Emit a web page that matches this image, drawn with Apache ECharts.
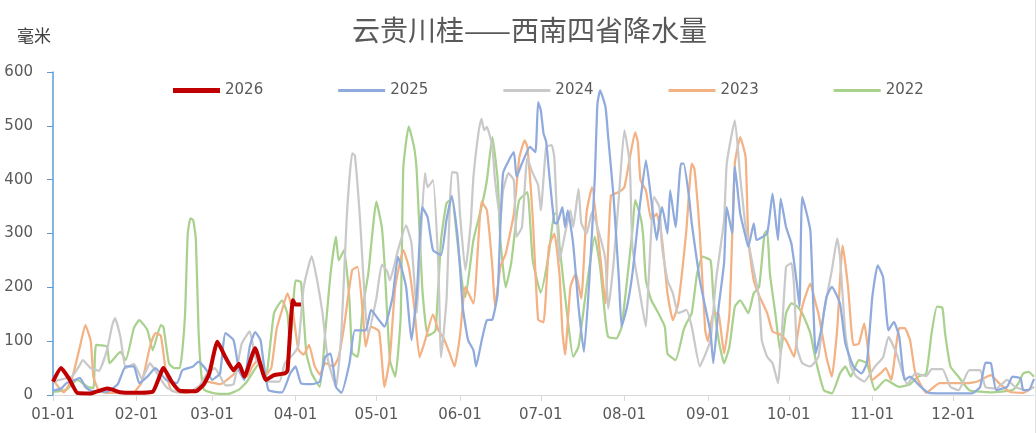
<!DOCTYPE html>
<html>
<head>
<meta charset="utf-8">
<script src="https://cdn.jsdelivr.net/npm/echarts@6/dist/echarts.min.js"></script>
<style>
html,body{margin:0;padding:0;background:#fff;}
#chart{width:1036px;height:433px;}
</style>
</head>
<body>
<div id="chart"></div>
<script>
// ---- data (day-of-year index, value in mm) ----
const monthLengths = [31,28,31,30,31,30,31,31,30,31,30,31];
const legendNames = ['2026','2025','2024','2023','2022'];

const s2026 = [[0,25],[3,50],[6,30],[9,4],[14,3],[20,12],[22,10],[25,5],[30,4],[37,6],[41,50],[44,25],[47,8],[53,7],[56,20],[58,40],[61,99],[64,70],[67,46],[69,58],[71,34],[75,87],[79,28],[82,37],[86,40],[87,45],[88,120],[89,176],[90,168],[92,168]];

const s2025 = [[0,8],[3,12],[5,22],[8,28],[10,32],[12,15],[14,8],[20,6],[24,20],[27,53],[30,53],[32,22],[35,34],[38,50],[42,28],[46,22],[48,46],[52,53],[54,62],[57,46],[59,28],[61,35],[62,40],[64,115],[67,102],[69,46],[71,28],[73,90],[75,117],[77,102],[78,65],[80,9],[85,5],[88,40],[90,53],[92,22],[96,20],[99,25],[101,71],[103,77],[105,15],[107,4],[110,59],[112,120],[116,120],[118,158],[121,139],[123,127],[126,182],[128,257],[131,201],[133,102],[135,189],[137,349],[139,330],[141,269],[144,260],[146,325],[148,370],[150,300],[151,238],[152,164],[154,102],[156,83],[157,53],[159,100],[161,139],[163,140],[165,189],[167,412],[171,451],[172,405],[174,430],[177,461],[179,451],[180,544],[181,529],[182,486],[183,470],[184,417],[186,320],[187,319],[189,349],[190,312],[191,343],[193,281],[195,164],[197,80],[199,213],[201,399],[202,540],[203,566],[205,535],[206,479],[208,368],[210,213],[211,127],[213,164],[215,226],[217,319],[218,362],[220,436],[222,362],[224,288],[225,325],[226,349],[228,300],[229,380],[231,312],[233,430],[234,430],[236,368],[237,319],[240,213],[242,164],[244,115],[245,59],[247,164],[249,245],[250,349],[252,300],[253,424],[255,337],[257,294],[258,275],[260,319],[261,288],[262,290],[265,300],[267,374],[269,288],[270,365],[272,312],[274,281],[276,207],[277,164],[278,368],[281,306],[283,77],[285,120],[287,182],[289,201],[292,170],[294,96],[297,53],[300,40],[302,60],[304,182],[306,241],[308,219],[310,120],[312,136],[314,108],[316,28],[318,34],[322,15],[325,4],[334,3],[341,3],[344,15],[346,60],[348,59],[350,9],[354,15],[356,34],[359,31],[360,9],[362,9],[364,30]];

const s2024 = [[0,25],[4,30],[7,34],[10,56],[11,65],[14,50],[17,45],[20,83],[22,130],[23,143],[25,108],[27,50],[30,58],[33,30],[36,59],[38,45],[42,15],[46,5],[50,5],[54,15],[57,38],[60,50],[62,35],[64,18],[67,20],[70,95],[73,118],[75,71],[78,40],[80,25],[84,25],[86,59],[89,75],[91,90],[93,200],[96,258],[98,213],[100,152],[102,65],[105,15],[107,115],[109,331],[111,449],[112,445],[114,320],[116,150],[117,115],[120,180],[122,242],[124,230],[125,213],[128,269],[131,315],[133,282],[135,152],[136,250],[138,412],[139,386],[141,399],[143,238],[144,70],[146,176],[147,319],[148,414],[150,412],[151,337],[153,232],[155,319],[156,405],[158,492],[159,513],[160,492],[161,498],[163,461],[164,400],[166,325],[167,380],[169,412],[171,399],[172,294],[174,312],[176,440],[178,412],[180,390],[181,343],[183,461],[185,464],[186,442],[188,250],[190,300],[192,343],[193,312],[195,383],[196,320],[198,300],[200,340],[203,294],[205,250],[206,160],[208,245],[210,370],[212,492],[214,430],[215,275],[218,182],[220,127],[221,213],[223,368],[225,349],[226,275],[228,213],[230,189],[232,152],[235,158],[237,127],[240,53],[242,75],[244,102],[246,213],[249,325],[250,430],[253,510],[255,405],[257,312],[260,232],[262,180],[263,102],[265,71],[267,59],[269,22],[272,238],[274,245],[275,201],[276,90],[278,59],[281,53],[284,71],[286,152],[289,232],[291,291],[292,257],[294,115],[296,53],[298,35],[301,25],[305,53],[308,70],[310,108],[313,77],[315,45],[317,20],[320,40],[324,35],[326,48],[330,48],[333,15],[336,9],[340,46],[344,46],[346,15],[350,12],[354,28],[357,15],[361,9],[364,15]];

const s2023 = [[0,28],[2,15],[4,5],[7,30],[10,90],[12,130],[14,100],[15,34],[17,8],[20,4],[25,4],[30,5],[33,25],[36,90],[38,115],[40,110],[42,40],[44,8],[50,4],[53,12],[57,25],[62,20],[66,34],[69,46],[72,34],[74,53],[76,65],[79,38],[81,50],[83,123],[85,158],[87,189],[89,155],[91,85],[93,75],[95,93],[97,55],[99,38],[101,59],[104,53],[106,71],[108,127],[111,232],[113,238],[115,150],[116,90],[118,127],[121,118],[123,15],[125,70],[127,201],[130,269],[132,238],[134,165],[136,70],[138,100],[141,150],[143,120],[145,105],[147,80],[149,53],[151,110],[153,201],[156,170],[158,300],[159,359],[161,343],[163,240],[164,164],[166,238],[168,263],[171,337],[173,440],[175,473],[176,461],[178,330],[180,140],[182,135],[184,275],[186,300],[188,220],[189,120],[190,75],[192,201],[194,226],[196,179],[198,340],[200,386],[203,260],[205,170],[207,370],[210,377],[212,386],[214,440],[216,488],[217,470],[218,399],[220,380],[222,325],[224,337],[226,288],[228,189],[230,139],[232,170],[235,306],[237,430],[238,420],[240,300],[242,120],[243,100],[245,152],[247,150],[249,77],[251,152],[253,430],[255,479],[257,442],[258,288],[260,213],[262,185],[265,152],[267,118],[270,112],[272,102],[275,71],[276,102],[278,164],[281,207],[283,170],[284,152],[287,70],[289,34],[291,124],[293,278],[295,201],[297,93],[299,95],[301,133],[302,102],[304,28],[307,40],[309,50],[311,28],[314,124],[316,124],[318,102],[320,40],[324,4],[329,22],[335,22],[339,22],[343,25],[348,37],[351,22],[355,6],[360,4],[364,15]];

const s2022 = [[0,6],[5,10],[9,28],[13,15],[15,13],[16,93],[20,90],[21,59],[25,80],[27,65],[30,124],[32,139],[35,121],[37,83],[40,130],[41,126],[43,59],[45,50],[47,50],[48,83],[49,150],[50,300],[51,328],[52,325],[53,290],[54,120],[55,40],[56,10],[60,3],[65,2],[69,10],[72,25],[77,62],[79,34],[82,152],[85,176],[87,150],[88,90],[90,213],[92,210],[94,78],[96,40],[99,15],[101,115],[103,226],[105,294],[106,250],[108,269],[110,176],[111,78],[113,71],[115,164],[117,226],[120,359],[122,312],[123,245],[125,65],[127,34],[129,145],[130,424],[132,499],[134,460],[135,412],[137,200],[139,110],[141,115],[142,121],[144,288],[146,356],[148,365],[150,288],[152,201],[153,182],[156,288],[159,349],[161,399],[163,479],[165,399],[166,288],[168,200],[170,245],[172,331],[173,362],[176,377],[178,250],[181,190],[184,263],[186,337],[187,337],[188,275],[191,140],[193,71],[195,90],[198,201],[201,294],[203,238],[205,139],[206,108],[209,105],[211,127],[215,306],[216,362],[218,331],[219,294],[220,213],[222,176],[224,158],[227,127],[228,77],[231,65],[234,121],[235,133],[237,152],[239,226],[241,257],[244,250],[245,182],[247,102],[249,59],[251,90],[253,164],[255,176],[258,152],[260,189],[262,201],[264,300],[265,306],[266,226],[268,152],[270,77],[272,152],[274,170],[276,165],[278,152],[281,115],[283,65],[286,9],[289,3],[292,40],[294,53],[296,34],[299,65],[302,59],[305,9],[309,28],[314,15],[318,20],[321,34],[324,40],[326,115],[328,164],[330,162],[331,115],[333,53],[336,34],[340,9],[348,5],[356,9],[358,20],[360,40],[362,43],[364,34]];

const yTicks = [0,100,200,300,400,500,600];

// ---- categories: every day of a (non-leap) year as MM-DD ----
const pad = n => (n < 10 ? '0' : '') + n;
const categories = [];
monthLengths.forEach((len, m) => {
  for (let d = 1; d <= len; d++) categories.push(pad(m + 1) + '-' + pad(d));
});

const seriesDefs = [
  {name:'2022', data:s2022, color:'#A9D18E', width:2.25},
  {name:'2023', data:s2023, color:'#F4B183', width:2.25},
  {name:'2024', data:s2024, color:'#C9C9C9', width:2.25},
  {name:'2025', data:s2025, color:'#8FAADC', width:2.25},
  {name:'2026', data:s2026, color:'#C00000', width:4}
];

const thinIcon = 'path://M0,0H47V3H0Z';
const thickIcon = 'path://M0,0H47V5H0Z';

const chart = echarts.init(document.getElementById('chart'), null, {renderer:'canvas'});
const axisFont = {color:'#595959', fontSize:15, fontFamily:'DejaVu Sans'};

chart.setOption({
  backgroundColor:'#fff',
  animation:false,
  title:[
    {text:'云贵川桂——西南四省降水量', left:352, top:16, padding:0,
     textStyle:{color:'#595959', fontSize:28, fontWeight:'normal', fontFamily:'Noto Sans CJK SC'}},
    {text:'毫米', left:17, top:27, padding:0,
     textStyle:{color:'#404040', fontSize:17, fontWeight:'normal', fontFamily:'Noto Sans CJK SC'}}
  ],
  legend:{
    data:legendNames.map(n => ({name:n, icon: n === '2026' ? thickIcon : thinIcon})),
    left:168, top:78,
    itemWidth:47, itemHeight:14, itemGap:75,
    textStyle:{color:'#595959', fontSize:15, fontFamily:'DejaVu Sans'}
  },
  grid:{left:53, right:2, top:72, bottom:38, containLabel:false},
  xAxis:{
    type:'category', data:categories, boundaryGap:false,
    axisLine:{lineStyle:{color:'#D9D9D9', width:1}},
    axisTick:{show:true, length:6, interval:(i, v) => v.endsWith('-01'), lineStyle:{color:'#D9D9D9'}},
    axisLabel:Object.assign({interval:(i, v) => v.endsWith('-01'), margin:13}, axisFont),
    splitLine:{show:false}
  },
  yAxis:{
    type:'value', min:yTicks[0], max:yTicks[yTicks.length-1], interval:100,
    axisLine:{show:true, lineStyle:{color:'#5B9BD5', width:1.5}},
    axisTick:{show:true, length:6, lineStyle:{color:'#5B9BD5'}},
    axisLabel:Object.assign({margin:20}, axisFont),
    splitLine:{show:false}
  },
  graphic:[
    {type:'line', shape:{x1:1035.5, y1:0, x2:1035.5, y2:433}, style:{stroke:'#E3E3E3', lineWidth:1}, silent:true}
  ],
  series:seriesDefs.map(s => ({
    name:s.name, type:'line', data:s.data, symbol:'none', smooth:0.15,
    lineStyle:{color:s.color, width:s.width}, itemStyle:{color:s.color},
    z: s.name === '2026' ? 5 : 2
  }))
});
</script>
</body>
</html>
